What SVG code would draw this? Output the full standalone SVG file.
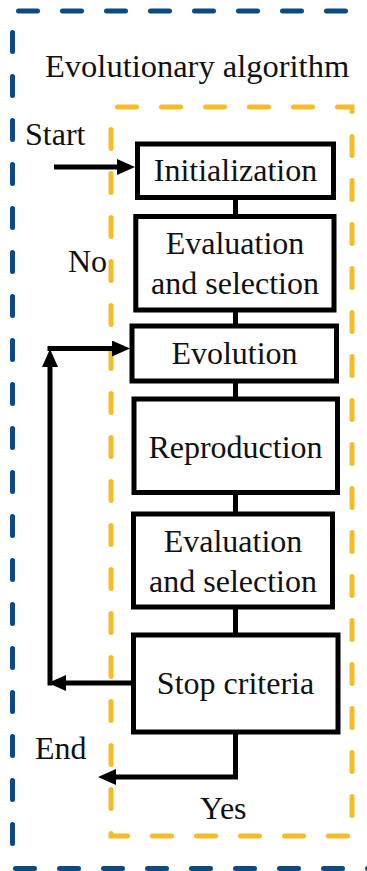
<svg xmlns="http://www.w3.org/2000/svg" width="367" height="871" viewBox="0 0 367 871">
<style>
  .t { font-family: "Liberation Serif", "Times New Roman", serif; font-size: 32px; fill: #111; }
  .c { text-anchor: middle; }
  .box { fill: #fff; stroke: #000; stroke-width: 5; }
  .blue { fill: none; stroke: #0b4a82; stroke-width: 5; stroke-linecap: round; stroke-dasharray: 19 25; }
  .orange { fill: none; stroke: #f5bc28; stroke-width: 5; stroke-linecap: round; stroke-dasharray: 19 25; }
  .conn { fill: none; stroke: #000; stroke-width: 5; }
</style>
<defs>
  <marker id="ah" viewBox="0 0 18 16" markerWidth="18" markerHeight="16" markerUnits="userSpaceOnUse" refX="8" refY="8" orient="auto">
    <path d="M0,0 L18,8 L0,16 z" fill="#000"/>
  </marker>
</defs>
<rect width="367" height="871" fill="#fff"/>
<g id="outer-frame">
  <line class="blue" x1="18.5" y1="11" x2="400" y2="11"/>
  <line class="blue" x1="12.5" y1="32.5" x2="12.5" y2="860"/>
  <line class="blue" x1="15.5" y1="868.5" x2="400" y2="868.5"/>
  <text class="t" x="45" y="77" style="font-size:32.5px">Evolutionary algorithm</text>
</g>
<g id="inner-frame">
  <rect class="orange" x="111" y="107" width="241" height="729" stroke-dashoffset="-6.5"/>
</g>
<g id="connectors">
  <line class="conn" x1="235.5" y1="197" x2="235.5" y2="217"/>
  <line class="conn" x1="235.5" y1="310" x2="235.5" y2="326"/>
  <line class="conn" x1="235.5" y1="381" x2="235.5" y2="399"/>
  <line class="conn" x1="235.5" y1="492" x2="235.5" y2="514"/>
  <line class="conn" x1="235.5" y1="607" x2="235.5" y2="635"/>
  <line class="conn" x1="54" y1="167" x2="125" y2="167" marker-end="url(#ah)"/>
  <line class="conn" x1="133" y1="683" x2="58" y2="683" marker-end="url(#ah)"/>
  <line class="conn" x1="50" y1="685.5" x2="50" y2="359" marker-end="url(#ah)"/>
  <line class="conn" x1="47.5" y1="348.5" x2="120" y2="348.5" marker-end="url(#ah)"/>
  <polyline class="conn" points="235.5,732 235.5,777 108,777" marker-end="url(#ah)"/>
</g>
<g id="start-label"><text class="t" x="25" y="145">Start</text></g>
<g id="no-label"><text class="t" x="68" y="272">No</text></g>
<g id="end-label"><text class="t" x="35" y="759">End</text></g>
<g id="yes-label"><text class="t" x="200" y="819">Yes</text></g>
<g id="initialization">
  <rect class="box" x="137.5" y="144" width="196" height="53.5"/>
  <text class="t c" x="235.5" y="181">Initialization</text>
</g>
<g id="evaluation1">
  <rect class="box" x="135.8" y="216.5" width="198.2" height="93.5"/>
  <text class="t c" x="235" y="253.5">Evaluation</text>
  <text class="t c" x="235" y="293.5">and selection</text>
</g>
<g id="evolution">
  <rect class="box" x="132" y="326" width="204.5" height="55"/>
  <text class="t c" x="234.5" y="364">Evolution</text>
</g>
<g id="reproduction">
  <rect class="box" x="134" y="399" width="203.5" height="93.5"/>
  <text class="t c" x="235.5" y="457.5">Reproduction</text>
</g>
<g id="evaluation2">
  <rect class="box" x="133.5" y="514" width="199" height="93"/>
  <text class="t c" x="233" y="552.3">Evaluation</text>
  <text class="t c" x="233" y="592.3">and selection</text>
</g>
<g id="stop-criteria">
  <rect class="box" x="133.5" y="635" width="204.5" height="97"/>
  <text class="t c" x="235.5" y="694">Stop criteria</text>
</g>
</svg>
